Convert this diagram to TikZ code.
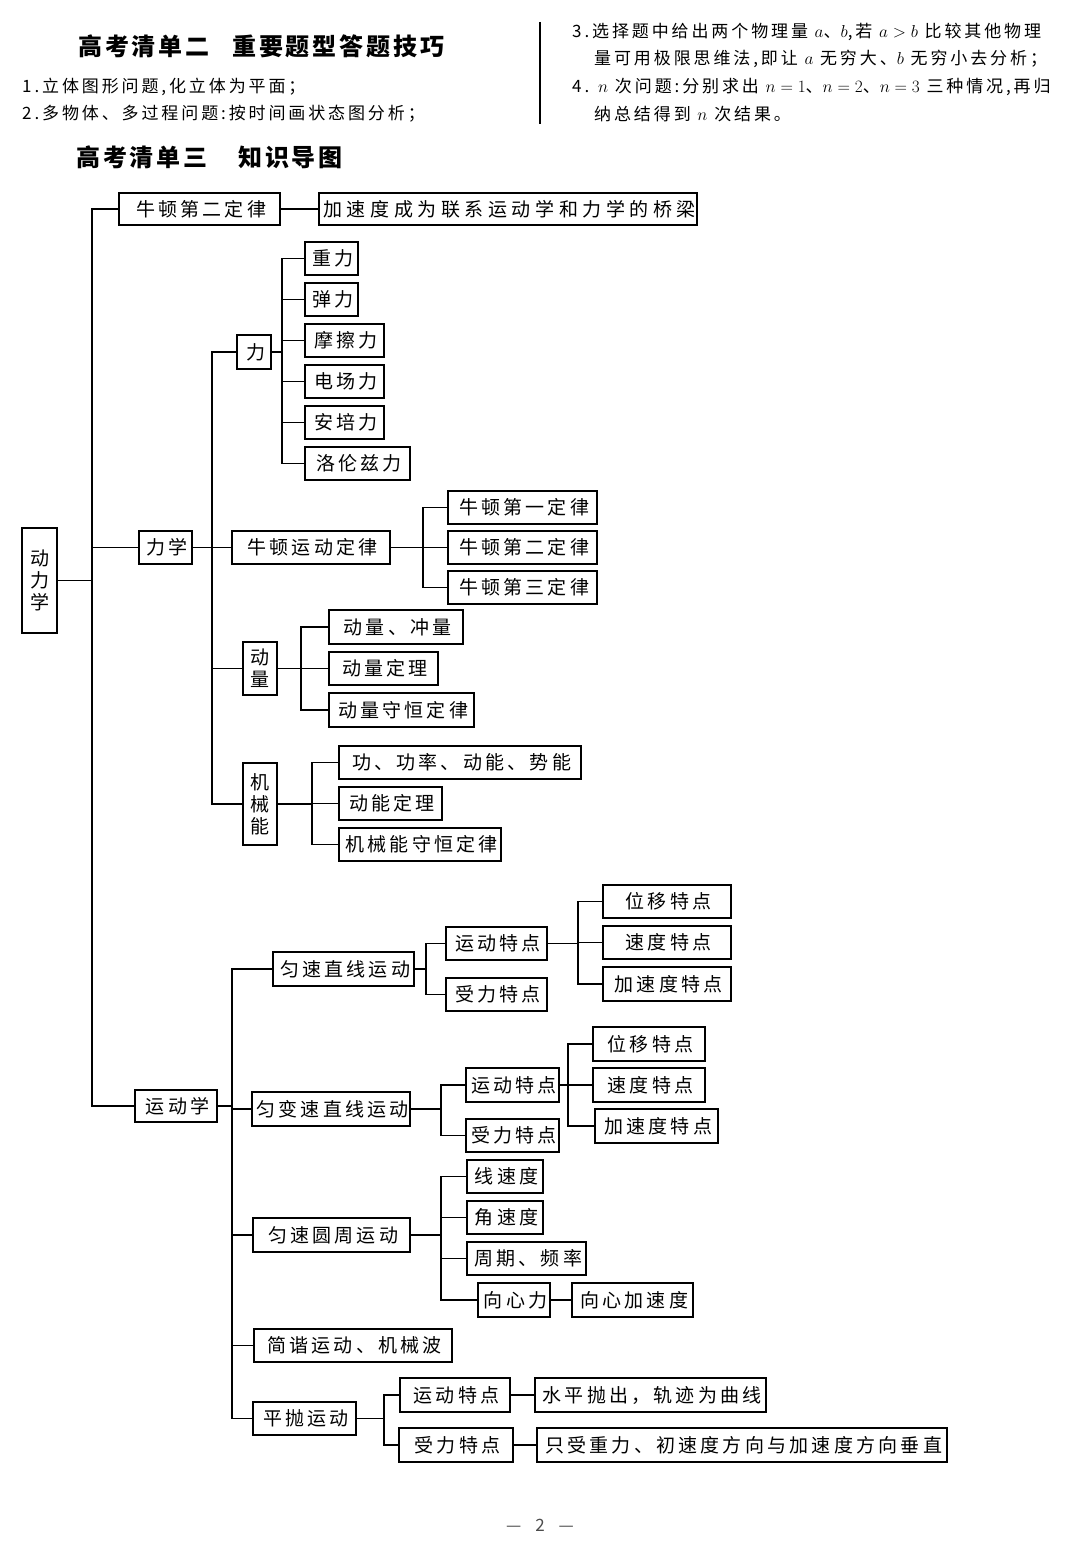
\documentclass[tikz,border=0pt]{standalone}
\usepackage{fontspec}
\setmainfont{Noto Sans CJK SC}
\newfontfamily\boxfont{Noto Sans CJK SC}[LetterSpace=17]
\newfontfamily\vfont{Noto Sans CJK SC}
\newfontfamily\hdfont{Noto Sans CJK SC}[LetterSpace=12]
\newfontfamily\txtfont{Noto Sans CJK SC}[LetterSpace=17]
\tikzset{
  box/.style={draw, line width=1.6pt, inner sep=0pt, align=center,
    font=\boxfont\fontsize{19}{21}\selectfont},
  vbox/.style={draw, line width=1.6pt, inner sep=0pt, align=center,
    font=\vfont\fontsize{19}{22}\selectfont},
  conn/.style={line width=1.6pt},
  hd/.style={anchor=west, inner sep=0pt, font=\hdfont\bfseries\fontsize{24}{26}\selectfont},
  txt/.style={anchor=west, inner sep=0pt, font=\txtfont\fontsize{17}{19}\selectfont}
}
\newcommand\mybox[6]{\node[box, minimum width={(#4-#2)*1pt}, minimum height={(#5-#3)*1pt}] (#1) at ({(#2+#4)/2},{(#3+#5)/2}) {\hspace{0.17em}#6};}
\newcommand\myvbox[6]{\node[vbox, minimum width={(#4-#2)*1pt}, minimum height={(#5-#3)*1pt}] (#1) at ({(#2+#4)/2},{(#3+#5)/2}) {#6};}
\newcommand\link[3]{\draw[conn] (#1.east) -- (#1.east -| #2) |- (#3.west);}
\begin{document}
\begin{tikzpicture}[x=1pt,y=-1pt]
\fill[white] (0,0) rectangle (1080,1560);
\useasboundingbox (0,0) rectangle (1080,1560);

% ---- header ----
\node[hd] (t2a) at (78,46) {高考清单二};
\node[hd] (t2b) at (232,46) {重要题型答题技巧};
\node[txt] (l1) at (22,87) {1.立体图形问题,化立体为平面；};
\node[txt] (l2) at (22,114) {2.多物体、多过程问题:按时间画状态图分析；};
\coordinate (rt) at (540,22);
\coordinate (rb) at (540,124);
\draw[line width=1.6pt] (rt) -- (rb);
\node[txt] (l3) at (572,32) {3.选择题中给出两个物理量 $a$、$b$,若 $a>b$ 比较其他物理};
\node[txt] (l3b) at (594,59) {量可用极限思维法,即让 $a$ 无穷大、$b$ 无穷小去分析；};
\node[txt] (l4) at (572,87) {4. $n$ 次问题:分别求出 $n=1$、$n=2$、$n=3$ 三种情况,再归};
\node[txt] (l4b) at (594,114) {纳总结得到 $n$ 次结果。};
\node[hd] (t3a) at (76,157) {高考清单三};
\node[hd] (t3b) at (238,157) {知识导图};

% ---- spines ----
\coordinate (s0) at (92,0);
\coordinate (s1) at (212,0);
\coordinate (s2) at (282,0);
\coordinate (s3) at (423,0);
\coordinate (s4) at (301,0);
\coordinate (s5) at (312,0);
\coordinate (s6) at (232,0);
\coordinate (s7) at (426,0);
\coordinate (s8) at (578,0);
\coordinate (s9) at (441,0);
\coordinate (s10) at (568,0);
\coordinate (s11) at (441,0);
\coordinate (s12) at (384,0);

% ---- nodes ----
\myvbox{root}{22}{528}{57}{633}{动\\力\\学}
\mybox{nt2}{119}{193}{280}{225}{牛顿第二定律}
\mybox{qiao}{319}{193}{697}{225}{{\addfontfeature{LetterSpace=24}加速度成为联系运动学和力学的桥梁}}
\mybox{lixue}{139}{531}{192}{564}{力学}
\mybox{ydx}{135}{1090}{217}{1122}{运动学}

\mybox{li}{237}{335}{271}{369}{力}
\mybox{zl}{305}{242}{358}{275}{重力}
\mybox{tl}{305}{283}{358}{316}{弹力}
\mybox{mcl}{305}{324}{384}{357}{摩擦力}
\mybox{dcl}{305}{365}{384}{398}{电场力}
\mybox{apl}{305}{406}{384}{439}{安培力}
\mybox{llzl}{305}{447}{410}{480}{洛伦兹力}

\mybox{nydl}{232}{531}{390}{564}{牛顿运动定律}
\mybox{ny1}{448}{491}{597}{524}{牛顿第一定律}
\mybox{ny2}{448}{531}{597}{564}{牛顿第二定律}
\mybox{ny3}{448}{571}{597}{604}{牛顿第三定律}

\myvbox{dl}{243}{642}{277}{695}{动\\量}
\mybox{dl1}{329}{610}{463}{644}{动量、冲量}
\mybox{dl2}{329}{652}{438}{685}{动量定理}
\mybox{dl3}{329}{693}{474}{727}{动量守恒定律}

\myvbox{jx}{243}{763}{277}{845}{机\\械\\能}
\mybox{jx1}{339}{746}{581}{779}{功、功率、动能、势能}
\mybox{jx2}{339}{787}{442}{820}{动能定理}
\mybox{jx3}{339}{828}{501}{861}{机械能守恒定律}

\mybox{uzx}{273}{952}{414}{986}{匀速直线运动}
\mybox{uzxtd}{446}{927}{547}{960}{运动特点}
\mybox{uzxsl}{446}{978}{547}{1011}{受力特点}
\mybox{uzxw}{603}{885}{731}{918}{位移特点}
\mybox{uzxv}{603}{926}{731}{959}{速度特点}
\mybox{uzxa}{603}{967}{731}{1001}{加速度特点}

\mybox{ubx}{252}{1092}{410}{1126}{匀变速直线运动}
\mybox{ubxtd}{466}{1068}{559}{1102}{运动特点}
\mybox{ubxsl}{466}{1119}{559}{1152}{受力特点}
\mybox{ubxw}{593}{1027}{705}{1061}{位移特点}
\mybox{ubxv}{593}{1068}{705}{1102}{速度特点}
\mybox{ubxa}{595}{1109}{718}{1143}{加速度特点}

\mybox{yz}{253}{1218}{410}{1252}{匀速圆周运动}
\mybox{yz1}{467}{1160}{543}{1193}{线速度}
\mybox{yz2}{467}{1201}{543}{1234}{角速度}
\mybox{yz3}{467}{1242}{586}{1275}{周期、频率}
\mybox{yz4}{478}{1283}{550}{1317}{向心力}
\mybox{yz5}{572}{1283}{693}{1317}{向心加速度}

\mybox{jy}{254}{1329}{452}{1362}{简谐运动、机械波}

\mybox{pp}{253}{1402}{356}{1435}{平抛运动}
\mybox{pptd}{400}{1378}{510}{1412}{运动特点}
\mybox{ppsl}{399}{1428}{513}{1462}{受力特点}
\mybox{pptd2}{535}{1378}{766}{1412}{水平抛出，轨迹为曲线}
\mybox{ppsl2}{537}{1428}{947}{1462}{只受重力、初速度方向与加速度方向垂直}

% ---- connectors ----
\link{root}{s0}{nt2}
\link{root}{s0}{lixue}
\link{root}{s0}{ydx}
\draw[conn] (nt2.east) -- (qiao.west);

\link{lixue}{s1}{li}
\link{lixue}{s1}{nydl}
\link{lixue}{s1}{dl}
\link{lixue}{s1}{jx}

\link{li}{s2}{zl}
\link{li}{s2}{tl}
\link{li}{s2}{mcl}
\link{li}{s2}{dcl}
\link{li}{s2}{apl}
\link{li}{s2}{llzl}

\link{nydl}{s3}{ny1}
\link{nydl}{s3}{ny2}
\link{nydl}{s3}{ny3}

\link{dl}{s4}{dl1}
\link{dl}{s4}{dl2}
\link{dl}{s4}{dl3}

\link{jx}{s5}{jx1}
\link{jx}{s5}{jx2}
\link{jx}{s5}{jx3}

\link{ydx}{s6}{uzx}
\link{ydx}{s6}{ubx}
\link{ydx}{s6}{yz}
\link{ydx}{s6}{jy}
\link{ydx}{s6}{pp}

\link{uzx}{s7}{uzxtd}
\link{uzx}{s7}{uzxsl}
\link{uzxtd}{s8}{uzxw}
\link{uzxtd}{s8}{uzxv}
\link{uzxtd}{s8}{uzxa}

\link{ubx}{s9}{ubxtd}
\link{ubx}{s9}{ubxsl}
\link{ubxtd}{s10}{ubxw}
\link{ubxtd}{s10}{ubxv}
\link{ubxtd}{s10}{ubxa}

\link{yz}{s11}{yz1}
\link{yz}{s11}{yz2}
\link{yz}{s11}{yz3}
\link{yz}{s11}{yz4}
\draw[conn] (yz4.east) -- (yz5.west);

\link{pp}{s12}{pptd}
\link{pp}{s12}{ppsl}
\draw[conn] (pptd.east) -- (pptd2.west);
\draw[conn] (ppsl.east) -- (ppsl2.west);

% ---- footer ----
\node[inner sep=0pt, text=black!70, font=\fontsize{17}{19}\selectfont] (pg) at (540,1525) {—\hspace{14pt}2\hspace{14pt}—};
\end{tikzpicture}
\end{document}
